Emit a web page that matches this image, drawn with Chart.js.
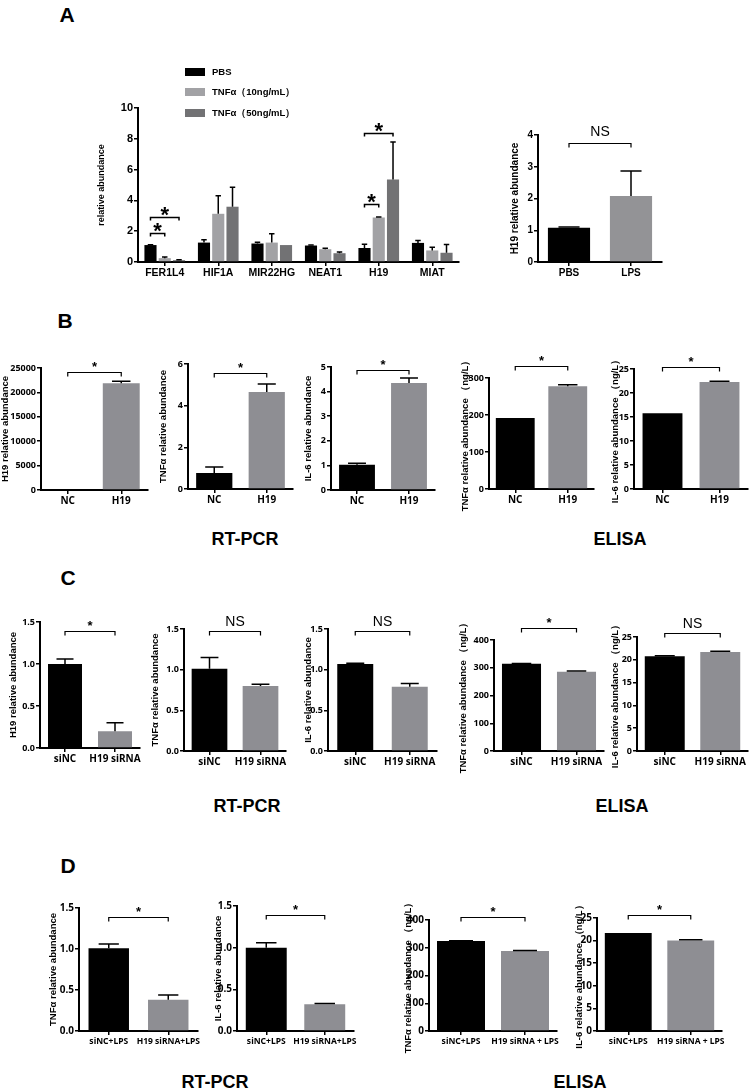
<!DOCTYPE html>
<html><head><meta charset="utf-8">
<script src="https://cdn.jsdelivr.net/npm/chart.js@4.4.1/dist/chart.umd.min.js"></script>
<style>
html,body{margin:0;padding:0;background:#fff;}
#page{position:relative;width:750px;height:1091px;overflow:hidden;background:#fff;}
canvas{position:absolute;}
.lbl{position:absolute;transform:translate(-50%,-50%);font-family:"Liberation Sans",Arial,sans-serif;font-weight:bold;color:#000;white-space:nowrap;line-height:1;}
</style></head><body><div id="page">
<div class="lbl" style="left:67px;top:14px;font-size:21px">A</div>
<div class="lbl" style="left:65px;top:320px;font-size:21px">B</div>
<div class="lbl" style="left:68px;top:577px;font-size:21px">C</div>
<div class="lbl" style="left:68px;top:865px;font-size:21px">D</div>
<div class="lbl" style="left:245px;top:539px;font-size:18px">RT-PCR</div>
<div class="lbl" style="left:620px;top:539px;font-size:18px">ELISA</div>
<div class="lbl" style="left:247px;top:806px;font-size:18px">RT-PCR</div>
<div class="lbl" style="left:622px;top:806px;font-size:18px">ELISA</div>
<div class="lbl" style="left:215px;top:1082px;font-size:18px">RT-PCR</div>
<div class="lbl" style="left:580px;top:1082px;font-size:18px">ELISA</div>
</div>
<script>
// ---------------- DATA ----------------
// Panel A (left): lncRNA expression after TNFα
const aGenes = ['FER1L4', 'HIF1A', 'MIR22HG', 'NEAT1', 'H19', 'MIAT'];
const aSeries = ['PBS', 'TNFα（10ng/mL）', 'TNFα（50ng/mL）'];
const aPBS = [1.1, 1.26, 1.2, 1.07, 0.91, 1.24];
const aPBSErr = [0.02, 0.19, 0.08, 0.03, 0.24, 0.16];
const aTNF10 = [0.25, 3.13, 1.26, 0.83, 2.89, 0.75];
const aTNF10Err = [0.07, 1.17, 0.57, 0.07, 0.04, 0.21];
const aTNF50 = [0.12, 3.59, 1.1, 0.57, 5.35, 0.6];
const aTNF50Err = [0.02, 1.26, 0, 0.08, 2.45, 0.53];
// Panel A (right)
const aLpsCats = ['PBS', 'LPS'];
const aLpsVals = [1.08, 2.08];
const aLpsErr = [0.02, 0.79];
// Panel B: H19 overexpression
const bCats = ['NC', 'H19'];
const bH19 = [1, 21900];          const bH19Err = [0, 400];
const bTnfPcr = [0.77, 4.66];     const bTnfPcrErr = [0.29, 0.38];
const bIl6Pcr = [1.03, 4.35];     const bIl6PcrErr = [0.06, 0.2];
const bTnfElisa = [192, 278];     const bTnfElisaErr = [0, 4];
const bIl6Elisa = [15.8, 22.3];   const bIl6ElisaErr = [0, 0.15];
// Panel C: H19 knockdown
const cCats = ['siNC', 'H19 siRNA'];
const cH19 = [1.0, 0.2];          const cH19Err = [0.06, 0.1];
const cTnfPcr = [1.01, 0.8];      const cTnfPcrErr = [0.14, 0.02];
const cIl6Pcr = [1.07, 0.79];     const cIl6PcrErr = [0.01, 0.04];
const cTnfElisa = [314, 286];     const cTnfElisaErr = [1, 2];
const cIl6Elisa = [20.8, 21.7];   const cIl6ElisaErr = [0.1, 0.2];
// Panel D: knockdown + LPS
const dCatsPcr = ['siNC+LPS', 'H19 siRNA+LPS'];
const dCatsElisa = ['siNC+LPS', 'H19 siRNA + LPS'];
const dTnfPcr = [1.01, 0.38];     const dTnfPcrErr = [0.05, 0.06];
const dIl6Pcr = [1.0, 0.32];      const dIl6PcrErr = [0.06, 0.01];
const dTnfElisa = [324, 288];     const dTnfElisaErr = [1, 2];
const dIl6Elisa = [21.7, 20.0];   const dIl6ElisaErr = [0, 0.2];
// significance brackets (value level on the y scale)
const aSig = [
  {from: [0, 0], to: [1, 0], y: 1.9, text: '*'},
  {from: [0, 0], to: [2, 0], y: 2.95, text: '*'},
  {from: [0, 4], to: [1, 4], y: 3.75, text: '*'},
  {from: [0, 4], to: [2, 4], y: 8.4, text: '*'}
];
const aLpsSig = 3.74;
const bSig = [24180, 5.57, 4.88, 332, 25.4];
const cSig = [1.39, 1.47, 1.47, 443, 25.9];
const cSigText = ['*', 'NS', 'NS', '*', 'NS'];
const dSig = [1.39, 1.39, 411, 25.7];

// ---------------- DRAWING ----------------
const SANS = '"Liberation Sans", Arial, Helvetica, sans-serif';
const COND = '"Noto Sans", "Liberation Sans", sans-serif';
const BLACK = '#000000', GRAY = '#8e8e93';

const overlayPlugin = {
  id: 'overlay',
  afterDraw(chart, args, o) {
    const ctx = chart.ctx, ys = chart.scales.y;
    ctx.save();
    ctx.strokeStyle = '#000'; ctx.fillStyle = '#000';
    // error bars (upper only)
    chart.data.datasets.forEach((ds, di) => {
      const meta = chart.getDatasetMeta(di);
      (ds.errors || []).forEach((e, i) => {
        if (!e) return;
        const bar = meta.data[i];
        const y0 = ys.getPixelForValue(ds.data[i]);
        const y1 = ys.getPixelForValue(ds.data[i] + e);
        const cw = bar.width * o.capRatio;
        ctx.lineWidth = o.errWidth;
        ctx.beginPath();
        ctx.moveTo(bar.x, y0); ctx.lineTo(bar.x, y1);
        ctx.moveTo(bar.x - cw / 2, y1); ctx.lineTo(bar.x + cw / 2, y1);
        ctx.stroke();
      });
    });
    // brackets
    (o.brackets || []).forEach(b => {
      const x1 = chart.getDatasetMeta(b.from[0]).data[b.from[1]].x;
      const x2 = chart.getDatasetMeta(b.to[0]).data[b.to[1]].x;
      const y = Math.round(ys.getPixelForValue(b.y)) + 0.5;
      ctx.lineWidth = o.brLine;
      ctx.beginPath();
      ctx.moveTo(x1, y + o.brTick); ctx.lineTo(x1, y); ctx.lineTo(x2, y); ctx.lineTo(x2, y + o.brTick);
      ctx.stroke();
      const isNS = b.text === 'NS';
      ctx.font = isNS ? o.nsFont : o.starFont;
      ctx.textAlign = 'center'; ctx.textBaseline = 'alphabetic';
      const m = ctx.measureText(b.text);
      const center = y - (isNS ? o.nsCenter : o.starCenter);
      const base = center + (m.actualBoundingBoxAscent - m.actualBoundingBoxDescent) / 2;
      ctx.fillText(b.text, (x1 + x2) / 2, base);
    });
    // y axis title
    if (o.title) {
      ctx.save();
      ctx.translate(o.titleX - o.ox, (chart.chartArea.top + chart.chartArea.bottom) / 2 + (o.titleDy || 0));
      ctx.rotate(-Math.PI / 2);
      ctx.font = o.titleFont; ctx.textAlign = 'center'; ctx.textBaseline = 'middle';
      ctx.fillText(o.title, 0, 0);
      ctx.restore();
    }
    // legend
    if (o.legend) {
      const L = o.legend;
      chart.data.datasets.forEach((ds, di) => {
        const ry = L.rows[di] - o.oy;
        ctx.fillStyle = ds.backgroundColor;
        ctx.fillRect(L.sx - o.ox, ry - L.sh / 2, L.sw, L.sh);
        ctx.fillStyle = '#000';
        ctx.font = L.font; ctx.textAlign = 'left'; ctx.textBaseline = 'middle';
        ctx.fillText(ds.label, L.tx - o.ox, ry);
      });
    }
    ctx.restore();
  }
};

function makeChart(c) {
  const p = c.plot;
  const padL = p.l - c.titleX + 9;
  const padT = c.padT || 32, padR = c.padR == null ? 6 : c.padR, padB = c.padB || 24;
  const W = p.r - p.l + padL + padR;
  const H = p.b - p.t + padT + padB;
  const ox = p.l - padL, oy = p.t - padT;
  const cv = document.createElement('canvas');
  cv.width = W; cv.height = H;
  cv.style.left = ox + 'px'; cv.style.top = oy + 'px';
  cv.style.width = W + 'px'; cv.style.height = H + 'px';
  document.getElementById('page').appendChild(cv);
  const axisW = c.axisW || 2;
  new Chart(cv, {
    type: 'bar',
    data: {
      labels: c.labels,
      datasets: c.series.map(s => ({
        label: s.label, data: s.data, errors: s.err,
        backgroundColor: s.color, borderWidth: 0,
        categoryPercentage: c.cp, barPercentage: c.bp
      }))
    },
    options: {
      responsive: false, animation: false, devicePixelRatio: 1,
      layout: {autoPadding: false, padding: {left: 0, top: padT, right: padR, bottom: 0}},
      plugins: {
        legend: {display: false}, tooltip: {enabled: false},
        overlay: Object.assign({
          ox, oy, capRatio: 0.5, errWidth: 1.5, brLine: 1.2, brTick: 4,
          starFont: 'bold 13px ' + SANS, nsFont: '14px ' + SANS,
          starCenter: 8, nsCenter: 11,
          titleFont: 'bold 9.5px ' + SANS
        }, c.overlay)
      },
      scales: {
        x: {
          afterFit: s => { s.height = padB; },
          grid: {display: true, drawOnChartArea: false, offset: false, tickLength: 4, color: '#000', lineWidth: 1.5},
          border: {display: true, color: '#000', width: axisW},
          ticks: {color: '#000', font: c.xFont, padding: 1, maxRotation: 0, autoSkip: false}
        },
        y: {
          min: 0, max: c.max,
          afterFit: s => { s.width = padL; },
          grid: {display: true, drawOnChartArea: false, tickLength: 4, color: '#000', lineWidth: 1.5},
          border: {display: true, color: '#000', width: axisW},
          ticks: {stepSize: c.step, color: '#000', font: c.yFont, padding: 1, callback: c.fmt}
        }
      }
    },
    plugins: [overlayPlugin]
  });
}

const fInt = v => String(v);
const f1 = v => v.toFixed(1);
const sansB = sz => ({family: SANS, size: sz, weight: 'bold'});
const condB = sz => ({family: COND, size: sz, weight: 'bold condensed'});
function two(vals, errs) { return [{label: 'v', data: vals, err: errs, color: [BLACK, GRAY]}]; }

// ---- Panel A left ----
makeChart({
  plot: {l: 138, r: 459, t: 108, b: 262}, titleX: 102, padT: 50,
  labels: aGenes,
  series: [
    {label: aSeries[0], data: aPBS, err: aPBSErr, color: '#000000'},
    {label: aSeries[1], data: aTNF10, err: aTNF10Err, color: '#a2a2a5'},
    {label: aSeries[2], data: aTNF50, err: aTNF50Err, color: '#727274'}
  ],
  cp: 0.8, bp: 0.85, max: 10, step: 2, fmt: fInt,
  xFont: sansB(10.5), yFont: sansB(11),
  overlay: {
    title: 'relative abundance', titleX: 102, titleFont: 'bold 9px ' + SANS,
    brackets: aSig, starFont: 'bold 22px ' + SANS, starCenter: 6.5, brTick: 3, brLine: 1.5, capRatio: 0.45,
    legend: {rows: [72, 92, 113], sx: 185, sw: 20, sh: 8, tx: 212, font: 'bold 9.5px ' + SANS}
  }
});
// ---- Panel A right ----
makeChart({
  plot: {l: 538, r: 662, t: 135, b: 262}, titleX: 515, padT: 30,
  labels: aLpsCats,
  series: [{label: 'H19', data: aLpsVals, err: aLpsErr, color: [BLACK, '#939396']}],
  cp: 1, bp: 0.68, max: 4, step: 1, fmt: fInt,
  xFont: sansB(10), yFont: sansB(10),
  overlay: {title: 'H19 relative abundance', titleX: 515, titleFont: 'bold 10px ' + SANS,
    brackets: [{from: [0, 0], to: [0, 1], y: aLpsSig, text: 'NS'}], nsCenter: 13}
});

// ---- Panel B ----
const bSpecs = [
  {plot: {l: 41, r: 148, t: 368, b: 490}, titleX: 5, vals: bH19, err: bH19Err, max: 25000, step: 5000, fmt: fInt, title: 'H19 relative abundance', bp: 0.69},
  {plot: {l: 188, r: 293, t: 364, b: 489}, titleX: 163, vals: bTnfPcr, err: bTnfPcrErr, max: 6, step: 2, fmt: fInt, title: 'TNFα relative abundance', bp: 0.69},
  {plot: {l: 331, r: 435, t: 367, b: 490}, titleX: 308, vals: bIl6Pcr, err: bIl6PcrErr, max: 5, step: 1, fmt: fInt, title: 'IL-6 relative abundance', bp: 0.69},
  {plot: {l: 489, r: 594, t: 378, b: 489}, titleX: 465, vals: bTnfElisa, err: bTnfElisaErr, max: 300, step: 100, fmt: fInt, title: 'TNFα relative abundance （ng/L）', bp: 0.74},
  {plot: {l: 634, r: 748, t: 369, b: 489}, titleX: 615, vals: bIl6Elisa, err: bIl6ElisaErr, max: 25, step: 5, fmt: fInt, title: 'IL-6 relative abundance （ng/L）', bp: 0.7, padR: 2}
];
bSpecs.forEach((s, i) => makeChart({
  plot: s.plot, titleX: s.titleX, padR: s.padR,
  labels: bCats, series: two(s.vals, s.err),
  cp: 1, bp: s.bp, max: s.max, step: s.step, fmt: s.fmt,
  xFont: condB(10), yFont: condB(9),
  overlay: {title: s.title, titleX: s.titleX,
    brackets: [{from: [0, 0], to: [0, 1], y: bSig[i], text: '*'}]}
}));

// ---- Panel C ----
const cSpecs = [
  {plot: {l: 40, r: 140, t: 622, b: 748}, titleX: 13, vals: cH19, err: cH19Err, max: 1.5, step: 0.5, fmt: f1, title: 'H19 relative abundance', bp: 0.68},
  {plot: {l: 184, r: 286, t: 629, b: 751}, titleX: 155, vals: cTnfPcr, err: cTnfPcrErr, max: 1.5, step: 0.5, fmt: f1, title: 'TNFα relative abundance', bp: 0.7},
  {plot: {l: 328, r: 437, t: 629, b: 751}, titleX: 308, vals: cIl6Pcr, err: cIl6PcrErr, max: 1.5, step: 0.5, fmt: f1, title: 'IL-6 relative abundance', bp: 0.66},
  {plot: {l: 494, r: 604, t: 640, b: 751}, titleX: 463, vals: cTnfElisa, err: cTnfElisaErr, max: 400, step: 100, fmt: fInt, title: 'TNFα relative abundance （ng/L）', bp: 0.71},
  {plot: {l: 637, r: 748, t: 637, b: 751}, titleX: 615, vals: cIl6Elisa, err: cIl6ElisaErr, max: 25, step: 5, fmt: fInt, title: 'IL-6 relative abundance （ng/L）', bp: 0.72, padR: 2}
];
cSpecs.forEach((s, i) => makeChart({
  plot: s.plot, titleX: s.titleX, padR: s.padR,
  labels: cCats, series: two(s.vals, s.err),
  cp: 1, bp: s.bp, max: s.max, step: s.step, fmt: s.fmt,
  xFont: condB(10), yFont: condB(9),
  overlay: {title: s.title, titleX: s.titleX,
    brackets: [{from: [0, 0], to: [0, 1], y: cSig[i], text: cSigText[i]}]}
}));

// ---- Panel D ----
const dSpecs = [
  {plot: {l: 79, r: 198, t: 908, b: 1031}, titleX: 53, labels: dCatsPcr, vals: dTnfPcr, err: dTnfPcrErr, max: 1.5, step: 0.5, fmt: f1, title: 'TNFα relative abundance', bp: 0.68},
  {plot: {l: 237, r: 354, t: 906, b: 1031}, titleX: 218, labels: dCatsPcr, vals: dIl6Pcr, err: dIl6PcrErr, max: 1.5, step: 0.5, fmt: f1, title: 'IL-6 relative abundance', bp: 0.7},
  {plot: {l: 429, r: 557, t: 920, b: 1031}, titleX: 408, labels: dCatsElisa, vals: dTnfElisa, err: dTnfElisaErr, max: 400, step: 100, fmt: fInt, title: 'TNFα relative abundance （ng/L）', bp: 0.75},
  {plot: {l: 597, r: 722, t: 918, b: 1031}, titleX: 579, labels: dCatsElisa, vals: dIl6Elisa, err: dIl6ElisaErr, max: 25, step: 5, fmt: fInt, title: 'IL-6 relative abundance （ng/L）', bp: 0.75}
];
dSpecs.forEach((s, i) => makeChart({
  plot: s.plot, titleX: s.titleX,
  labels: s.labels, series: two(s.vals, s.err),
  cp: 1, bp: s.bp, max: s.max, step: s.step, fmt: s.fmt,
  xFont: condB(8.5), yFont: condB(10),
  overlay: {title: s.title, titleX: s.titleX,
    brackets: [{from: [0, 0], to: [0, 1], y: dSig[i], text: '*'}]}
}));
</script></body></html>
